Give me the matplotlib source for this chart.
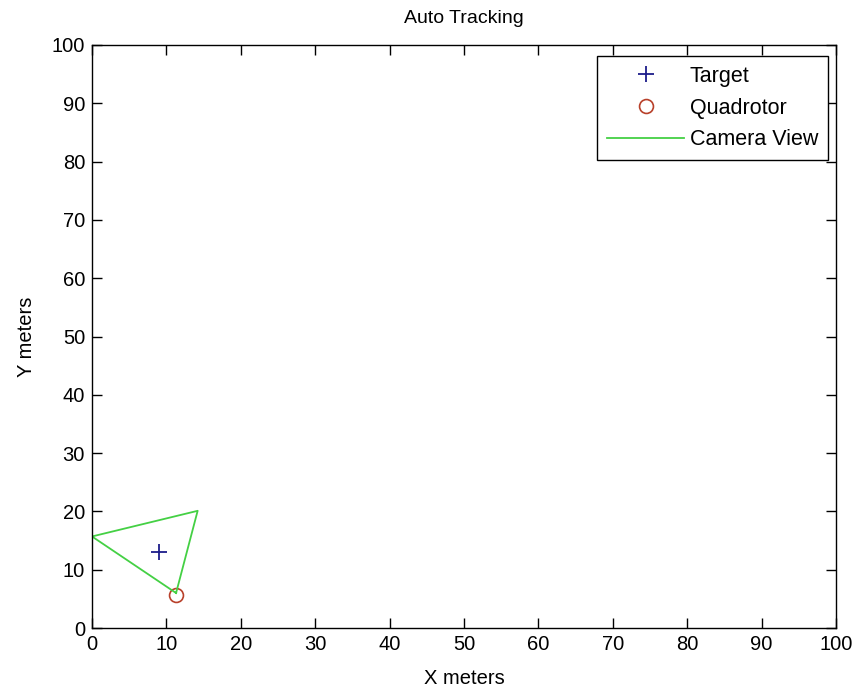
import matplotlib
matplotlib.use("Agg")
import matplotlib.pyplot as plt

# Camera footprint polygon (closed), target and quadrotor positions
view_x = [11.3, 0.0, 14.2, 11.3]
view_y = [6.0, 15.7, 20.1, 6.0]
target_x = [9.0]
target_y = [13.0]
quad_x = [11.3]
quad_y = [5.6]

ticks = list(range(0, 101, 10))

plt.rcParams["font.family"] = ["Liberation Sans", "DejaVu Sans"]
plt.rcParams["font.size"] = 14

fig = plt.figure(figsize=(8.58, 6.93), dpi=100)
ax = fig.add_axes([92 / 858, 1 - 628 / 693, 744 / 858, 583 / 693])

ax.plot(target_x, target_y, linestyle="none", marker="+", markersize=11,
        markeredgewidth=1.3, color="#1c1c8a", label="Target")
ax.plot(quad_x, quad_y, linestyle="none", marker="o", markersize=10,
        markerfacecolor="none", markeredgewidth=1.2, color="#b8402a", label="Quadrotor")
ax.plot(view_x, view_y, color="#44d044", linewidth=1.3, label="Camera View")

ax.set_xlim(0, 100)
ax.set_ylim(0, 100)
ax.set_xticks(ticks)
ax.set_yticks(ticks)
ax.tick_params(direction="in", top=True, right=True, length=7, width=1.0,
               labelsize=14.5, pad=5)
for s in ax.spines.values():
    s.set_linewidth(1.0)

ax.set_title("Auto Tracking", fontsize=14, pad=16)
ax.set_xlabel("X meters", fontsize=14.5, labelpad=11)
ax.set_ylabel("Y meters", fontsize=14.5, labelpad=11)

leg = ax.legend(loc="upper right", bbox_to_anchor=(0.989, 0.981),
                borderaxespad=0, fancybox=False, edgecolor="black",
                framealpha=1, fontsize=15.5, handlelength=3.6,
                handletextpad=0.25, labelspacing=0.5, borderpad=0.45)
leg.get_frame().set_linewidth(1.0)

fig.savefig("out.png", dpi=100)
